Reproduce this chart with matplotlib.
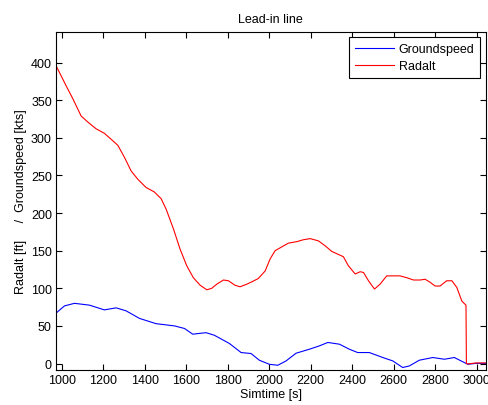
import matplotlib
matplotlib.use("Agg")
import matplotlib.pyplot as plt

plt.rcParams['font.family'] = ['Liberation Sans', 'DejaVu Sans']

# Simulation trace: radar altitude [ft] and groundspeed [kts] vs sim time [s]
radalt_t = [972, 1021, 1053, 1093, 1125, 1165, 1205, 1238, 1270, 1302, 1334, 1366,
            1406, 1446, 1479, 1503, 1538, 1570, 1602, 1634, 1667, 1699, 1723, 1747,
            1779, 1803, 1835, 1859, 1892, 1916, 1947, 1980, 2004, 2028, 2060, 2092,
            2133, 2164, 2197, 2237, 2269, 2301, 2357, 2381, 2414, 2438, 2454, 2478,
            2507, 2534, 2566, 2630, 2663, 2695, 2727, 2751, 2775, 2799, 2823, 2855,
            2880, 2904, 2928, 2948, 2950, 2957, 2997, 3045]
radalt = [396, 369, 352, 329, 321, 312, 306, 298, 290, 274, 256, 245,
          234, 228, 219, 205, 179, 152, 130, 114, 104, 98, 100, 105.5,
          111, 110, 104, 102, 105.5, 108.6, 113, 123, 139, 150, 155, 160,
          162, 164.5, 166, 163, 156.5, 149, 142, 130, 119, 122, 121, 110,
          99, 105.5, 116.5, 116.5, 114, 111, 111, 112, 108, 103, 103, 110,
          110, 101, 83, 77.5, 0, -0.5, 0.8, 0.8]

gs_t = [972, 1013, 1061, 1133, 1205, 1262, 1310, 1374, 1454, 1543, 1591, 1631,
        1695, 1735, 1808, 1864, 1912, 1952, 2000, 2041, 2081, 2129, 2193, 2241,
        2282, 2338, 2386, 2426, 2482, 2547, 2595, 2643, 2675, 2723, 2788, 2844,
        2892, 2924, 2957, 2997, 3045]
groundspeed = [67, 76.6, 80, 77.6, 71.3, 74, 70, 60, 53, 50, 46.6, 39,
               41, 37.6, 26.6, 14.6, 13.3, 4.4, -1, -2.3, 3.5, 13.7, 19, 23.4,
               28, 25.7, 19, 14.6, 14.6, 8, 3.5, -5.3, -3.2, 4.4, 8, 5.7,
               8, 3.5, -1, 0.2, 0.2]

x_ticks = list(range(1000, 3001, 200))
y_ticks = list(range(0, 401, 50))

fig = plt.figure(figsize=(4.88, 4.06), dpi=100)
ax = fig.add_axes([56 / 488, 1 - 371.3 / 406, (485.7 - 56) / 488, (371.3 - 32.7) / 406])

ax.plot(gs_t, groundspeed, color='#0000ff', lw=0.8, label='Groundspeed')
ax.plot(radalt_t, radalt, color='#ff0000', lw=0.8, label='Radalt')

ax.set_xlim(972, 3043)
ax.set_ylim(-9, 441)
ax.set_xticks(x_ticks)
ax.set_yticks(y_ticks)
ax.tick_params(direction='in', length=4, width=0.8, labelsize=9, top=True, right=True,
               pad=3)
for s in ax.spines.values():
    s.set_linewidth(0.8)

ax.set_title('Lead-in line', fontsize=9, pad=7)
ax.set_xlabel('Simtime [s]', fontsize=9, labelpad=1)
ax.set_ylabel('Radalt [ft]     /  Groundspeed [kts]', fontsize=9, labelpad=3)

leg = ax.legend(loc='upper right', fontsize=9, frameon=True, fancybox=False,
                edgecolor='black', framealpha=1, borderaxespad=0.45,
                handlelength=3.1, handletextpad=0.4, borderpad=0.45, labelspacing=0.42)
leg.get_frame().set_linewidth(0.8)

fig.savefig('out.png', dpi=100)
